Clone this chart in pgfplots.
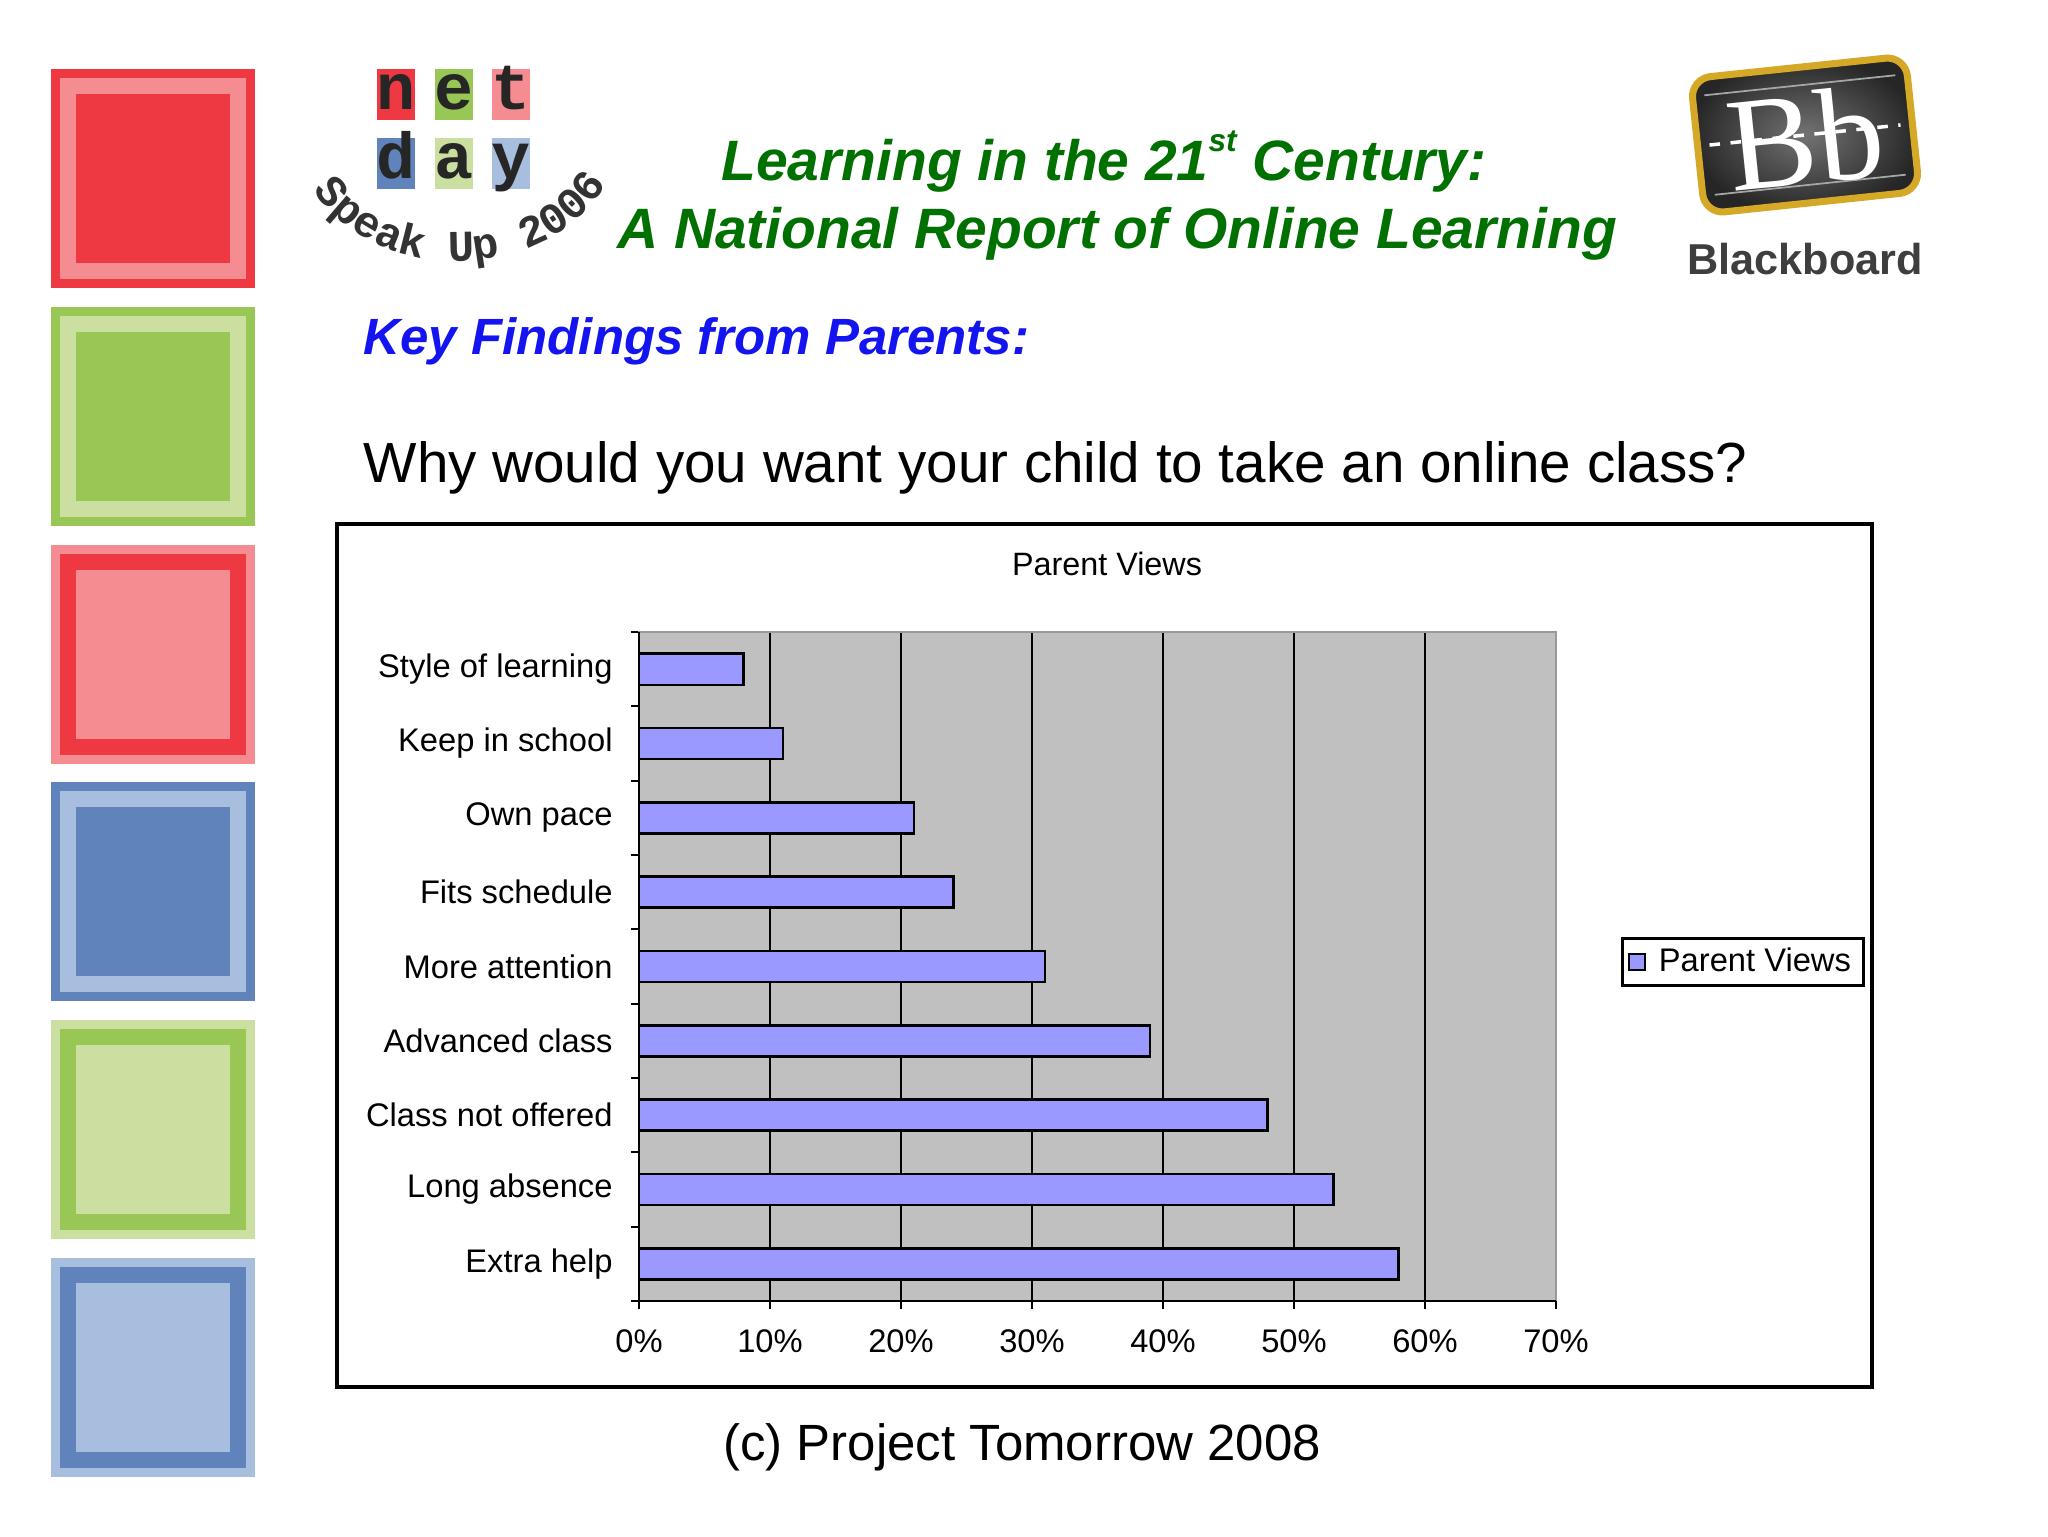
\documentclass[border=0pt]{standalone}
\usepackage{pgfplots}
\pgfplotsset{compat=1.18}
\usepackage{fontspec}
\setmainfont{Liberation Sans}
\newfontfamily\monofont{Liberation Mono}
\newfontfamily\serifont{Liberation Serif}
\usetikzlibrary{decorations.text}
\definecolor{cRed}{RGB}{238,56,66}
\definecolor{cPink}{RGB}{245,140,145}
\definecolor{cGreen}{RGB}{153,199,85}
\definecolor{cLGreen}{RGB}{203,224,160}
\definecolor{cBlue}{RGB}{95,131,186}
\definecolor{cLBlue}{RGB}{168,190,222}
\definecolor{titlegreen}{RGB}{0,112,0}
\definecolor{keyblue}{RGB}{20,20,240}
\definecolor{barfill}{RGB}{153,153,255}
\definecolor{plotbg}{RGB}{192,192,192}
\definecolor{bbgold}{RGB}{214,168,40}
\definecolor{bbtext}{RGB}{62,62,62}
\newcommand{\sq}[4]{%
  \fill[#2] (51,#1) rectangle (255,#1+219);
  \fill[#3] (60,#1+9) rectangle (246,#1+210);
  \fill[#4] (76,#1+25) rectangle (230,#1+194);
}
\begin{document}
\begin{tikzpicture}
\begin{scope}[x=0.1mm, y=-0.1mm]
\path[use as bounding box, fill=white] (0,0) rectangle (2048,1536);
% left squares
\sq{69}{cRed}{cPink}{cRed}
\sq{307}{cGreen}{cLGreen}{cGreen}
\sq{545}{cPink}{cRed}{cPink}
\sq{782}{cBlue}{cLBlue}{cBlue}
\sq{1020}{cLGreen}{cGreen}{cLGreen}
\sq{1258}{cLBlue}{cBlue}{cLBlue}
% netday logo
\foreach \x/\c/\l in {377/cRed/n, 435/cGreen/e, 492/cPink/t} {
  \fill[\c] (\x,69) rectangle ++(38,51);
  \node[anchor=base, inner sep=0pt, font=\monofont\bfseries\fontsize{18.5}{18}\selectfont, text=black!85] at (\x+19,109) {\l};
}
\foreach \x/\c/\l in {377/cBlue/d, 435/cLGreen/a, 492/cLBlue/y} {
  \fill[\c] (\x,138) rectangle ++(38,51);
  \node[anchor=base, inner sep=0pt, font=\monofont\bfseries\fontsize{18.5}{18}\selectfont, text=black!85] at (\x+19,178) {\l};
}
\path[decorate, decoration={text along path, text align=center,
   text={|\monofont\bfseries\fontsize{12.5}{12}\selectfont\color{black!80}|Speak Up 2006}}]
   (306,178) .. controls (365,290) and (555,290) .. (614,172);
% Blackboard logo
\begin{scope}[shift={(1805,135)}, rotate=6]
  \shade[rounded corners=2mm, inner color=black!55, outer color=black!85] (-108,-68) rectangle (108,68);
  \draw[bbgold, line width=2pt, rounded corners=2mm] (-108,-68) rectangle (108,68);
  \draw[gray!70, line width=0.5pt] (-96,-50) -- (96,-50);
  \draw[gray!70, line width=0.5pt] (-96,50) -- (96,50);
  \draw[white, dashed, line width=1pt] (-96,0) -- (96,0);
  \node[rotate=6, text=white, font=\serifont\fontsize{38}{38}\selectfont] at (0,3) {Bb};
\end{scope}
\node[anchor=base, text=bbtext, font=\bfseries\fontsize{12.3}{14}\selectfont] at (1805,274) {Blackboard};
% titles
\node[anchor=base, text=titlegreen, font=\bfseries\itshape\fontsize{16.2}{19}\selectfont] at (1104,180) {Learning in the 21\raisebox{0.5em}{\fontsize{9}{9}\selectfont st} Century:};
\node[anchor=base, text=titlegreen, font=\bfseries\itshape\fontsize{16.2}{19}\selectfont] at (1117,248) {A National Report of Online Learning};
\node[anchor=base west, inner sep=0pt, text=keyblue, font=\bfseries\itshape\fontsize{14.5}{17}\selectfont] at (363,354) {Key Findings from Parents:};
\node[anchor=base west, inner sep=0pt, font=\fontsize{16.1}{19}\selectfont] at (363,482) {Why would you want your child to take an online class?};
\node[anchor=base, inner sep=0pt, font=\fontsize{14.5}{17}\selectfont] at (1022,1460) {(c) Project Tomorrow 2008};
% chart frame
\draw[black, line width=1.1pt] (337,524) rectangle (1872,1387);
\node[anchor=base, inner sep=0pt, font=\fontsize{9.2}{11}\selectfont] at (1107,575) {Parent Views};
\end{scope}
\begin{axis}[
  at={(63.9mm,-130.1mm)}, anchor=south west,
  scale only axis, width=91.7mm, height=66.9mm,
  xbar, bar width=0.42,
  xmin=0, xmax=70, ymin=0.5, ymax=9.5,
  xtick={0,10,...,60},
  extra x ticks={70}, extra x tick style={grid=none},
  xticklabel={\pgfmathprintnumber[assume math mode=true]{\tick}\%},
  ytick={1,...,9},
  yticklabels={Extra help, Long absence, Class not offered, Advanced class, More attention, Fits schedule, Own pace, Keep in school, Style of learning},
  minor ytick={0.5,1.5,...,9.5},
  xtick pos=bottom, ytick pos=left,
  tick align=outside,
  major tick length=0.8mm, minor tick length=0.8mm,
  major y tick style={draw=none},
  minor y tick style={draw=black, line width=0.6pt},
  x tick style={black, line width=0.6pt},
  xmajorgrids, major grid style={black, line width=0.7pt},
  axis line style={draw=gray!80, line width=0.7pt},
  axis background/.style={fill=plotbg},
  tick label style={font=\fontsize{9.3}{11}\selectfont},
  xticklabel style={yshift=-0.8mm},
  yticklabel style={xshift=-0.6mm},
  legend style={at={(1.071,0.507)}, anchor=west, draw=black, line width=0.8pt, font=\fontsize{9.3}{11}\selectfont, inner xsep=1.5pt, inner ysep=0.5pt,
     /tikz/every odd column/.append style={column sep=0.6mm}},
  legend image code/.code={\draw[fill=barfill, draw=black, line width=0.6pt] (0.3mm,-0.8mm) rectangle (1.9mm,0.8mm);},
  clip=false,
]
\addplot[fill=barfill, draw=black, line width=0.75pt] coordinates {(58,1) (53,2) (48,3) (39,4) (31,5) (24,6) (21,7) (11,8) (8,9)};
\addlegendentry{Parent Views}
\draw[black, line width=0.8pt] (rel axis cs:0,1) -- (rel axis cs:0,0) -- (rel axis cs:1,0);
\end{axis}
\end{tikzpicture}
\end{document}
